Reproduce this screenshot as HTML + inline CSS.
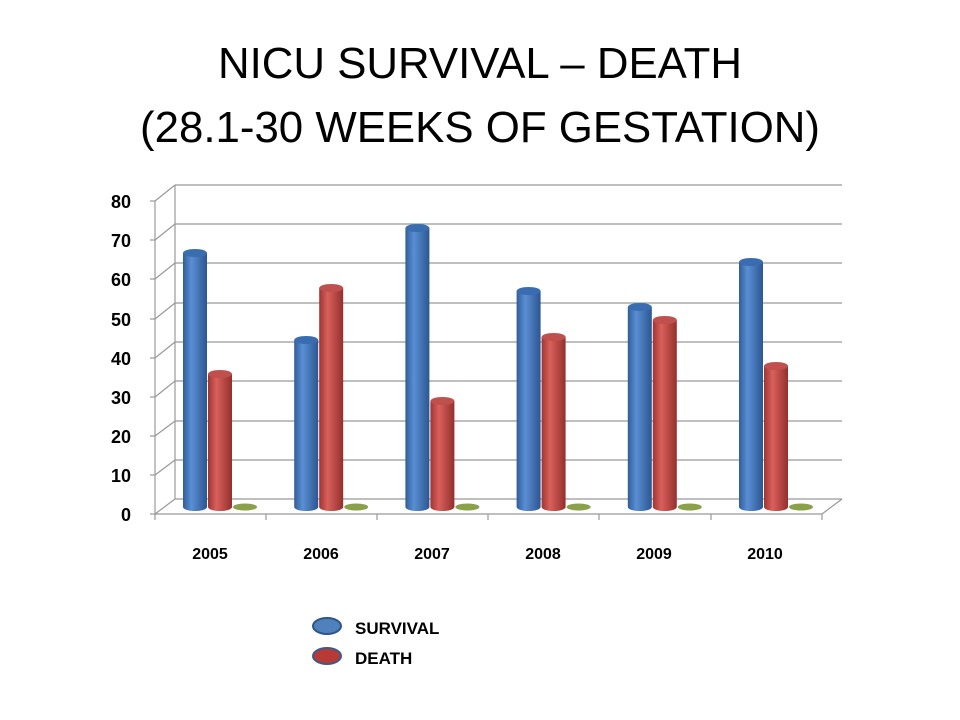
<!DOCTYPE html>
<html><head><meta charset="utf-8"><style>body{margin:0;background:#fff}svg{display:block}</style></head><body>
<svg width="960" height="720" xmlns="http://www.w3.org/2000/svg" font-family="Liberation Sans, sans-serif">
<defs>
<linearGradient id="b" x1="0" x2="1"><stop offset="0" stop-color="#2f5d99"/><stop offset="0.35" stop-color="#5a8fd4"/><stop offset="1" stop-color="#2c5690"/></linearGradient>
<linearGradient id="r" x1="0" x2="1"><stop offset="0" stop-color="#9e3532"/><stop offset="0.35" stop-color="#d9605c"/><stop offset="1" stop-color="#93302d"/></linearGradient>
</defs>
<text x="480" y="78" text-anchor="middle" font-size="44" textLength="524" lengthAdjust="spacingAndGlyphs">NICU SURVIVAL – DEATH</text>
<text x="480" y="142" text-anchor="middle" font-size="44" textLength="680" lengthAdjust="spacingAndGlyphs">(28.1-30 WEEKS OF GESTATION)</text>
<g stroke="#999" stroke-width="1.2" fill="none">
<line x1="175" y1="185" x2="842" y2="185"/><line x1="175" y1="224" x2="842" y2="224"/><line x1="175" y1="263" x2="842" y2="263"/><line x1="175" y1="303" x2="842" y2="303"/><line x1="175" y1="342" x2="842" y2="342"/><line x1="175" y1="381" x2="842" y2="381"/><line x1="175" y1="421" x2="842" y2="421"/><line x1="175" y1="460" x2="842" y2="460"/><line x1="175" y1="499" x2="842" y2="499"/>
<line x1="175" y1="185" x2="175" y2="499"/>
<line x1="155" y1="201" x2="175" y2="185"/><line x1="155" y1="240" x2="175" y2="224"/><line x1="155" y1="279" x2="175" y2="263"/><line x1="155" y1="319" x2="175" y2="303"/><line x1="155" y1="358" x2="175" y2="342"/><line x1="155" y1="397" x2="175" y2="381"/><line x1="155" y1="436" x2="175" y2="421"/><line x1="155" y1="475" x2="175" y2="460"/><line x1="155" y1="514" x2="175" y2="499"/>
<line x1="822" y1="514" x2="842" y2="499"/>
<line x1="155" y1="201" x2="155" y2="514"/><line x1="155" y1="514" x2="822" y2="514"/>
<line x1="150" y1="201" x2="155" y2="201"/><line x1="150" y1="240" x2="155" y2="240"/><line x1="150" y1="279" x2="155" y2="279"/><line x1="150" y1="319" x2="155" y2="319"/><line x1="150" y1="358" x2="155" y2="358"/><line x1="150" y1="397" x2="155" y2="397"/><line x1="150" y1="436" x2="155" y2="436"/><line x1="150" y1="475" x2="155" y2="475"/><line x1="150" y1="514" x2="155" y2="514"/>
<line x1="155" y1="514" x2="155" y2="520"/><line x1="266" y1="514" x2="266" y2="520"/><line x1="377" y1="514" x2="377" y2="520"/><line x1="488" y1="514" x2="488" y2="520"/><line x1="599" y1="514" x2="599" y2="520"/><line x1="711" y1="514" x2="711" y2="520"/><line x1="822" y1="514" x2="822" y2="520"/>
</g>
<g font-size="18" font-weight="bold" text-anchor="end">
<text x="131" y="208">80</text><text x="131" y="247">70</text><text x="131" y="286">60</text><text x="131" y="326">50</text><text x="131" y="365">40</text><text x="131" y="404">30</text><text x="131" y="443">20</text><text x="131" y="482">10</text><text x="131" y="521">0</text>
</g>
<g font-size="16" font-weight="bold" text-anchor="middle">
<text x="210" y="559">2005</text><text x="321" y="559">2006</text><text x="432" y="559">2007</text><text x="543" y="559">2008</text><text x="654" y="559">2009</text><text x="765" y="559">2010</text>
</g>
<g id="bars"></g>
<g font-size="17" font-weight="bold"><text x="355" y="634">SURVIVAL</text><text x="355" y="664">DEATH</text></g>
<ellipse cx="327" cy="626" rx="14" ry="8" fill="#4f81bd" stroke="#2e5489" stroke-width="2"/>
<ellipse cx="327" cy="656" rx="14" ry="8" fill="#b83a36" stroke="#3d5a8a" stroke-width="2"/>
<script>
var g=document.getElementById('bars'),ns='http://www.w3.org/2000/svg';
var tops=[[253,374],[340,288],[228,401],[291,337],[307,320],[262,366]];
function el(t,a){var e=document.createElementNS(ns,t);for(var k in a)e.setAttribute(k,a[k]);g.appendChild(e);}
for(var i=0;i<6;i++){var x=183+i*111.2;
el('ellipse',{cx:x+62,cy:507,rx:12,ry:3.5,fill:'#8aa04a'});
[[0,'url(#b)','#3a6db0'],[1,'url(#r)','#c0504d']].forEach(function(s){var bx=x+s[0]*25,t=tops[i][s[0]];
el('path',{d:'M'+bx+' '+t+' L'+bx+' 507 A12 4 0 0 0 '+(bx+24)+' 507 L'+(bx+24)+' '+t+' Z',fill:s[1]});
el('ellipse',{cx:bx+12,cy:t,rx:12,ry:4,fill:s[2]});});}
</script>
</svg>
</body></html>
